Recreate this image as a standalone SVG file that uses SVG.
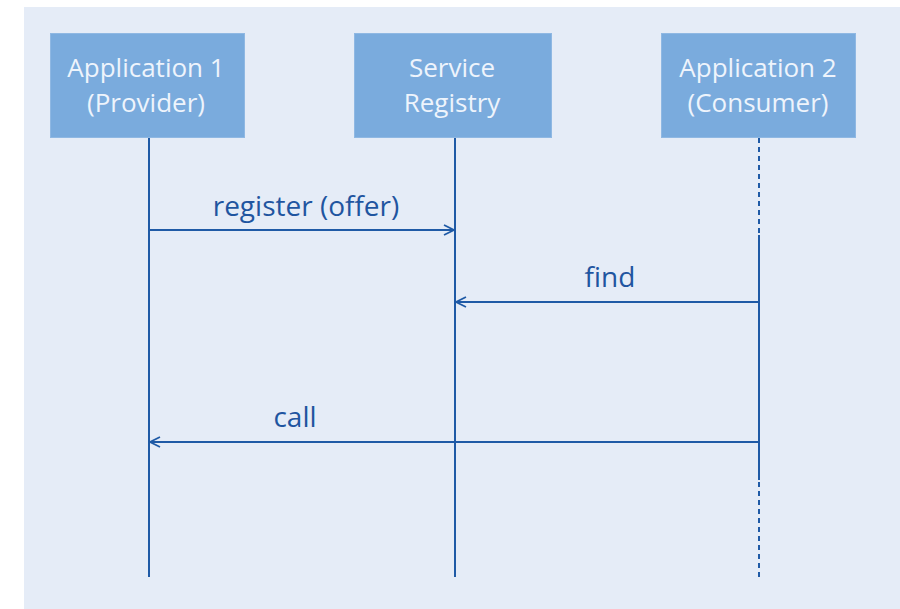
<svg xmlns="http://www.w3.org/2000/svg" width="900" height="609" viewBox="0 0 900 609">
<defs>
<style>
.box{fill:#7aabdd;stroke:#8fb8e3;stroke-width:1}
.bt{font-family:"Open Sans","Noto Sans",sans-serif;font-size:26px;fill:#eef4fc;text-anchor:middle}
.lt{font-family:"Open Sans","Noto Sans",sans-serif;font-size:28px;fill:#1f55a0;text-anchor:middle}
.ll{stroke:#1f5aa6;stroke-width:2;fill:none}
.dash{stroke-dasharray:5 4}
.msg{stroke:#1f5aa6;stroke-width:2;fill:none}
</style>
<marker id="ah" viewBox="0 0 12 12" refX="11" refY="6" markerWidth="12" markerHeight="12" markerUnits="userSpaceOnUse" orient="auto">
<path d="M1,1 L11,6 L1,11" fill="none" stroke="#1f5aa6" stroke-width="1.8"/>
</marker>
</defs>
<rect x="24" y="7" width="876" height="602" fill="#e5ecf7"/>
<g id="app1">
<rect class="box" x="50.5" y="33.5" width="194" height="104"/>
<text class="bt" x="146" y="77">Application 1</text>
<text class="bt" x="146" y="112">(Provider)</text>
</g>
<g id="registry">
<rect class="box" x="354.5" y="33.5" width="197" height="104"/>
<text class="bt" x="452" y="77">Service</text>
<text class="bt" x="452" y="112">Registry</text>
</g>
<g id="app2">
<rect class="box" x="661.5" y="33.5" width="194" height="104"/>
<text class="bt" x="758" y="77">Application 2</text>
<text class="bt" x="758" y="112">(Consumer)</text>
</g>
<g id="connectors">
<line class="ll" x1="149" y1="138" x2="149" y2="577"/>
<line class="ll" x1="455" y1="138" x2="455" y2="577"/>
<line class="ll dash" x1="759" y1="138" x2="759" y2="235"/>
<line class="ll" x1="759" y1="235" x2="759" y2="480"/>
<line class="ll dash" x1="759" y1="482" x2="759" y2="580"/>
<line class="msg" x1="149" y1="230" x2="454" y2="230" marker-end="url(#ah)"/>
<line class="msg" x1="759" y1="302" x2="456" y2="302" marker-end="url(#ah)"/>
<line class="msg" x1="759" y1="442" x2="150" y2="442" marker-end="url(#ah)"/>
<text class="lt" x="306" y="216">register (offer)</text>
<text class="lt" x="610" y="287">find</text>
<text class="lt" x="295" y="427">call</text>
</g>
</svg>
